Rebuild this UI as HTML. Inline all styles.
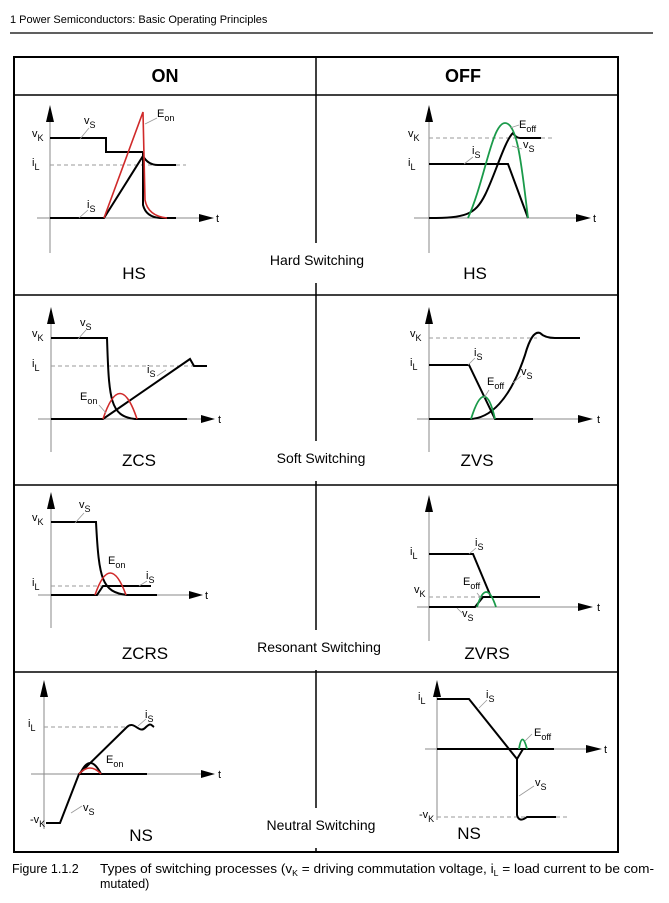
<!DOCTYPE html>
<html><head><meta charset="utf-8"><style>
body{margin:0;background:#fff;}
svg{display:block;font-family:"Liberation Sans",Arial,sans-serif;}
.ax{stroke:#8a8a8a;stroke-width:1;fill:none}
.k{stroke:#000;stroke-width:2;fill:none}
.r{stroke:#d02a2a;stroke-width:1.6;fill:none}
.g{stroke:#1a9a4a;stroke-width:1.8;fill:none}
.d{stroke:#999;stroke-width:1;stroke-dasharray:4 3;fill:none}
.ld{stroke:#999;stroke-width:0.8;fill:none}
.l{font-size:11px}
.s{font-size:9px}
.big{font-size:17px}
.rl{font-size:14px}
</style></head><body>
<svg width="669" height="903" viewBox="0 0 669 903">
<text x="10" y="23" font-size="11">1 Power Semiconductors: Basic Operating Principles</text>
<line x1="10" y1="33" x2="653" y2="33" stroke="#000" stroke-width="1.3"/>
<rect x="14" y="57" width="604" height="795" fill="none" stroke="#000" stroke-width="2"/>
<line x1="14" y1="95" x2="618" y2="95" stroke="#000" stroke-width="1.5"/>
<line x1="14" y1="295" x2="618" y2="295" stroke="#000" stroke-width="1.5"/>
<line x1="14" y1="485" x2="618" y2="485" stroke="#000" stroke-width="1.5"/>
<line x1="14" y1="672" x2="618" y2="672" stroke="#000" stroke-width="1.5"/>
<line x1="316" y1="57" x2="316" y2="852" stroke="#000" stroke-width="1.5"/>
<text x="165" y="82" font-size="18" font-weight="bold" text-anchor="middle">ON</text>
<text x="463" y="82" font-size="18" font-weight="bold" text-anchor="middle">OFF</text>

<!-- row labels -->
<rect x="262" y="243" width="110" height="40" fill="#fff"/>
<text x="317" y="265" class="rl" text-anchor="middle">Hard Switching</text>
<rect x="268" y="441" width="106" height="40" fill="#fff"/>
<text x="321" y="463" class="rl" text-anchor="middle">Soft Switching</text>
<rect x="246" y="630" width="146" height="40" fill="#fff"/>
<text x="319" y="652" class="rl" text-anchor="middle">Resonant Switching</text>
<rect x="256" y="808" width="130" height="40" fill="#fff"/>
<text x="321" y="830" class="rl" text-anchor="middle">Neutral Switching</text>

<!-- Panel 1 HS ON -->
<line class="ax" x1="50" y1="253" x2="50" y2="118"/><polygon points="46,122 50,105 54,122"/>
<line class="ax" x1="37" y1="218" x2="200" y2="218"/><polygon points="199,214 214,218 199,222"/>
<text x="216" y="222" class="l">t</text>
<line class="d" x1="50" y1="165" x2="186" y2="165"/>
<path class="k" d="M50,138 H106 V152 H143"/>
<path class="k" d="M143,152 V205 Q146,217 160,218 H176"/>
<path class="k" d="M50,218 H104 L143,156 Q148,165 158,165 H176"/>
<path class="r" d="M104,218 L143,112 L145,200 Q148,216 167,218"/>
<text x="32" y="137" class="l">v<tspan dy="4" class="s">K</tspan></text>
<text x="32" y="166" class="l">i<tspan dy="4" class="s">L</tspan></text>
<text x="84" y="124" class="l">v<tspan dy="4" class="s">S</tspan></text><path class="ld" d="M80,139 L89,128"/>
<text x="157" y="117" class="l">E<tspan dy="4" class="s">on</tspan></text><path class="ld" d="M145,124 L157,118"/>
<text x="87" y="208" class="l">i<tspan dy="4" class="s">S</tspan></text><path class="ld" d="M79,218 L88,210"/>
<text x="134" y="279" class="big" text-anchor="middle">HS</text>

<!-- Panel 2 HS OFF -->
<line class="ax" x1="429" y1="253" x2="429" y2="118"/><polygon points="425,122 429,105 433,122"/>
<line class="ax" x1="414" y1="218" x2="577" y2="218"/><polygon points="576,214 591,218 576,222"/>
<text x="593" y="222" class="l">t</text>
<line class="d" x1="429" y1="138" x2="554" y2="138"/>
<path class="k" d="M429,164 H508 L528,218"/>
<path class="k" d="M429,218 C465,218 475,215 485,195 S505,140 513,133 Q516,138 520,138 H541"/>
<path class="g" d="M468,218 C485,180 492,123 505,123 C518,123 522,170 528,218"/>
<text x="408" y="137" class="l">v<tspan dy="4" class="s">K</tspan></text>
<text x="408" y="166" class="l">i<tspan dy="4" class="s">L</tspan></text>
<text x="472" y="154" class="l">i<tspan dy="4" class="s">S</tspan></text><path class="ld" d="M464,164 L473,157"/>
<text x="519" y="128" class="l">E<tspan dy="4" class="s">off</tspan></text><path class="ld" d="M510,128 L519,125"/>
<text x="523" y="148" class="l">v<tspan dy="4" class="s">S</tspan></text><path class="ld" d="M512,146 L522,149"/>
<text x="475" y="279" class="big" text-anchor="middle">HS</text>

<!-- Panel 3 ZCS -->
<line class="ax" x1="51" y1="452" x2="51" y2="320"/><polygon points="47,324 51,307 55,324"/>
<line class="ax" x1="38" y1="419" x2="201" y2="419"/><polygon points="201,415 215,419 201,423"/>
<text x="218" y="423" class="l">t</text>
<line class="d" x1="51" y1="366" x2="207" y2="366"/>
<path class="k" d="M51,338 H107 C109,400 110,416 135,419 H187"/>
<path class="k" d="M51,419 H103 L190,359 L194,366 H207"/>
<path class="r" d="M103,419 Q120,368 137,419"/>
<text x="32" y="337" class="l">v<tspan dy="4" class="s">K</tspan></text>
<text x="32" y="367" class="l">i<tspan dy="4" class="s">L</tspan></text>
<text x="80" y="326" class="l">v<tspan dy="4" class="s">S</tspan></text><path class="ld" d="M78,339 L86,330"/>
<text x="147" y="373" class="l">i<tspan dy="4" class="s">S</tspan></text><path class="ld" d="M157,376 L166,370"/>
<text x="80" y="400" class="l">E<tspan dy="4" class="s">on</tspan></text><path class="ld" d="M99,405 L106,413"/>
<text x="139" y="466" class="big" text-anchor="middle">ZCS</text>

<!-- Panel 4 ZVS -->
<line class="ax" x1="429" y1="452" x2="429" y2="320"/><polygon points="425,324 429,307 433,324"/>
<line class="ax" x1="417" y1="419" x2="579" y2="419"/><polygon points="578,415 593,419 578,423"/>
<text x="597" y="423" class="l">t</text>
<line class="d" x1="429" y1="338" x2="537" y2="338"/>
<path class="k" d="M429,419 H469 C490,419 510,400 525,355 Q532,330 540,333 Q545,338 555,338 H580"/>
<path class="k" d="M429,365 H469 L495,419 H533"/>
<path class="g" d="M471,419 Q485,374 495,419"/>
<text x="410" y="337" class="l">v<tspan dy="4" class="s">K</tspan></text>
<text x="410" y="366" class="l">i<tspan dy="4" class="s">L</tspan></text>
<text x="474" y="356" class="l">i<tspan dy="4" class="s">S</tspan></text><path class="ld" d="M468,365 L475,358"/>
<text x="487" y="385" class="l">E<tspan dy="4" class="s">off</tspan></text><path class="ld" d="M484,398 L489,390"/>
<text x="521" y="375" class="l">v<tspan dy="4" class="s">S</tspan></text><path class="ld" d="M513,383 L521,376"/>
<text x="477" y="466" class="big" text-anchor="middle">ZVS</text>

<!-- Panel 5 ZCRS -->
<line class="ax" x1="51" y1="628" x2="51" y2="505"/><polygon points="47,509 51,492 55,509"/>
<line class="ax" x1="38" y1="595" x2="189" y2="595"/><polygon points="189,591 203,595 189,599"/>
<text x="205" y="599" class="l">t</text>
<line class="d" x1="51" y1="586" x2="103" y2="586"/>
<path class="k" d="M51,522 H96 C99,580 102,592 127,595 H157"/>
<path class="k" d="M51,595 H97 L103,586 H151"/>
<path class="r" d="M95,595 Q110,551 126,595"/>
<text x="32" y="521" class="l">v<tspan dy="4" class="s">K</tspan></text>
<text x="32" y="586" class="l">i<tspan dy="4" class="s">L</tspan></text>
<text x="79" y="508" class="l">v<tspan dy="4" class="s">S</tspan></text><path class="ld" d="M75,523 L84,513"/>
<text x="108" y="564" class="l">E<tspan dy="4" class="s">on</tspan></text>
<text x="146" y="579" class="l">i<tspan dy="4" class="s">S</tspan></text><path class="ld" d="M139,586 L147,581"/>
<text x="145" y="659" class="big" text-anchor="middle">ZCRS</text>

<!-- Panel 6 ZVRS -->
<line class="ax" x1="429" y1="641" x2="429" y2="508"/><polygon points="425,512 429,495 433,512"/>
<line class="ax" x1="417" y1="607" x2="579" y2="607"/><polygon points="578,603 593,607 578,611"/>
<text x="597" y="611" class="l">t</text>
<line class="d" x1="429" y1="597" x2="481" y2="597"/>
<path class="k" d="M429,554 H473 L491,597 H540"/>
<path class="k" d="M429,607 H475 L483,597 H491"/>
<path class="g" d="M477,607 Q486,577 496,607"/>
<text x="410" y="555" class="l">i<tspan dy="4" class="s">L</tspan></text>
<text x="475" y="546" class="l">i<tspan dy="4" class="s">S</tspan></text><path class="ld" d="M469,554 L476,548"/>
<text x="463" y="585" class="l">E<tspan dy="4" class="s">off</tspan></text><path class="ld" d="M477,593 L481,598"/>
<text x="414" y="593" class="l">v<tspan dy="4" class="s">K</tspan></text>
<text x="462" y="617" class="l">v<tspan dy="4" class="s">S</tspan></text><path class="ld" d="M457,608 L462,613"/>
<text x="487" y="659" class="big" text-anchor="middle">ZVRS</text>

<!-- Panel 7 NS ON -->
<line class="ax" x1="44" y1="829" x2="44" y2="693"/><polygon points="40,697 44,680 48,697"/>
<line class="ax" x1="31" y1="774" x2="201" y2="774"/><polygon points="201,770 215,774 201,778"/>
<text x="218" y="778" class="l">t</text>
<line class="d" x1="44" y1="727" x2="127" y2="727"/>
<path class="k" d="M46,823 H60 L79,774 H147"/>
<path class="k" d="M79,774 L127,727 C134,720 139,734 145,728 S151,725 154,727"/>
<path class="k" d="M80,774 Q90,752 101,774" stroke-width="1.4"/>
<path class="r" d="M79,774 Q90,762 101,774"/>
<text x="28" y="727" class="l">i<tspan dy="4" class="s">L</tspan></text>
<text x="30" y="823" class="l">-v<tspan dy="4" class="s">K</tspan></text>
<text x="145" y="718" class="l">i<tspan dy="4" class="s">S</tspan></text><path class="ld" d="M138,726 L146,719"/>
<text x="106" y="763" class="l">E<tspan dy="4" class="s">on</tspan></text>
<text x="83" y="811" class="l">v<tspan dy="4" class="s">S</tspan></text><path class="ld" d="M71,813 L82,806"/>
<text x="141" y="841" class="big" text-anchor="middle">NS</text>

<!-- Panel 8 NS OFF -->
<line class="ax" x1="437" y1="820" x2="437" y2="693"/><polygon points="433,697 437,680 441,697"/>
<line class="ax" x1="425" y1="749" x2="587" y2="749"/><polygon points="586,745 602,749 586,753"/>
<text x="604" y="753" class="l">t</text>
<line class="d" x1="437" y1="817" x2="570" y2="817"/>
<path class="k" d="M437,699 H469 L517,759 L523,749"/>
<path class="k" d="M437,749 H554"/>
<path class="k" d="M517,759 V815 Q519,823 527,817 H556"/>
<path class="g" d="M519,749 Q522,730 527,749"/>
<text x="418" y="700" class="l">i<tspan dy="4" class="s">L</tspan></text>
<text x="486" y="698" class="l">i<tspan dy="4" class="s">S</tspan></text><path class="ld" d="M479,708 L487,700"/>
<text x="534" y="736" class="l">E<tspan dy="4" class="s">off</tspan></text><path class="ld" d="M525,741 L532,734"/>
<text x="535" y="786" class="l">v<tspan dy="4" class="s">S</tspan></text><path class="ld" d="M519,796 L534,786"/>
<text x="419" y="818" class="l">-v<tspan dy="4" class="s">K</tspan></text>
<text x="469" y="839" class="big" text-anchor="middle">NS</text>

<!-- caption -->
<text x="12" y="873" font-size="12.5">Figure 1.1.2</text>
<text x="100" y="873" font-size="12.5" textLength="554" lengthAdjust="spacingAndGlyphs">Types of switching processes (v<tspan dy="3" font-size="8">K</tspan><tspan dy="-3"> = driving commutation voltage, i</tspan><tspan dy="3" font-size="8">L</tspan><tspan dy="-3"> = load current to be com-</tspan></text>
<text x="100" y="888" font-size="12.5">mutated)</text>
</svg>
</body></html>
